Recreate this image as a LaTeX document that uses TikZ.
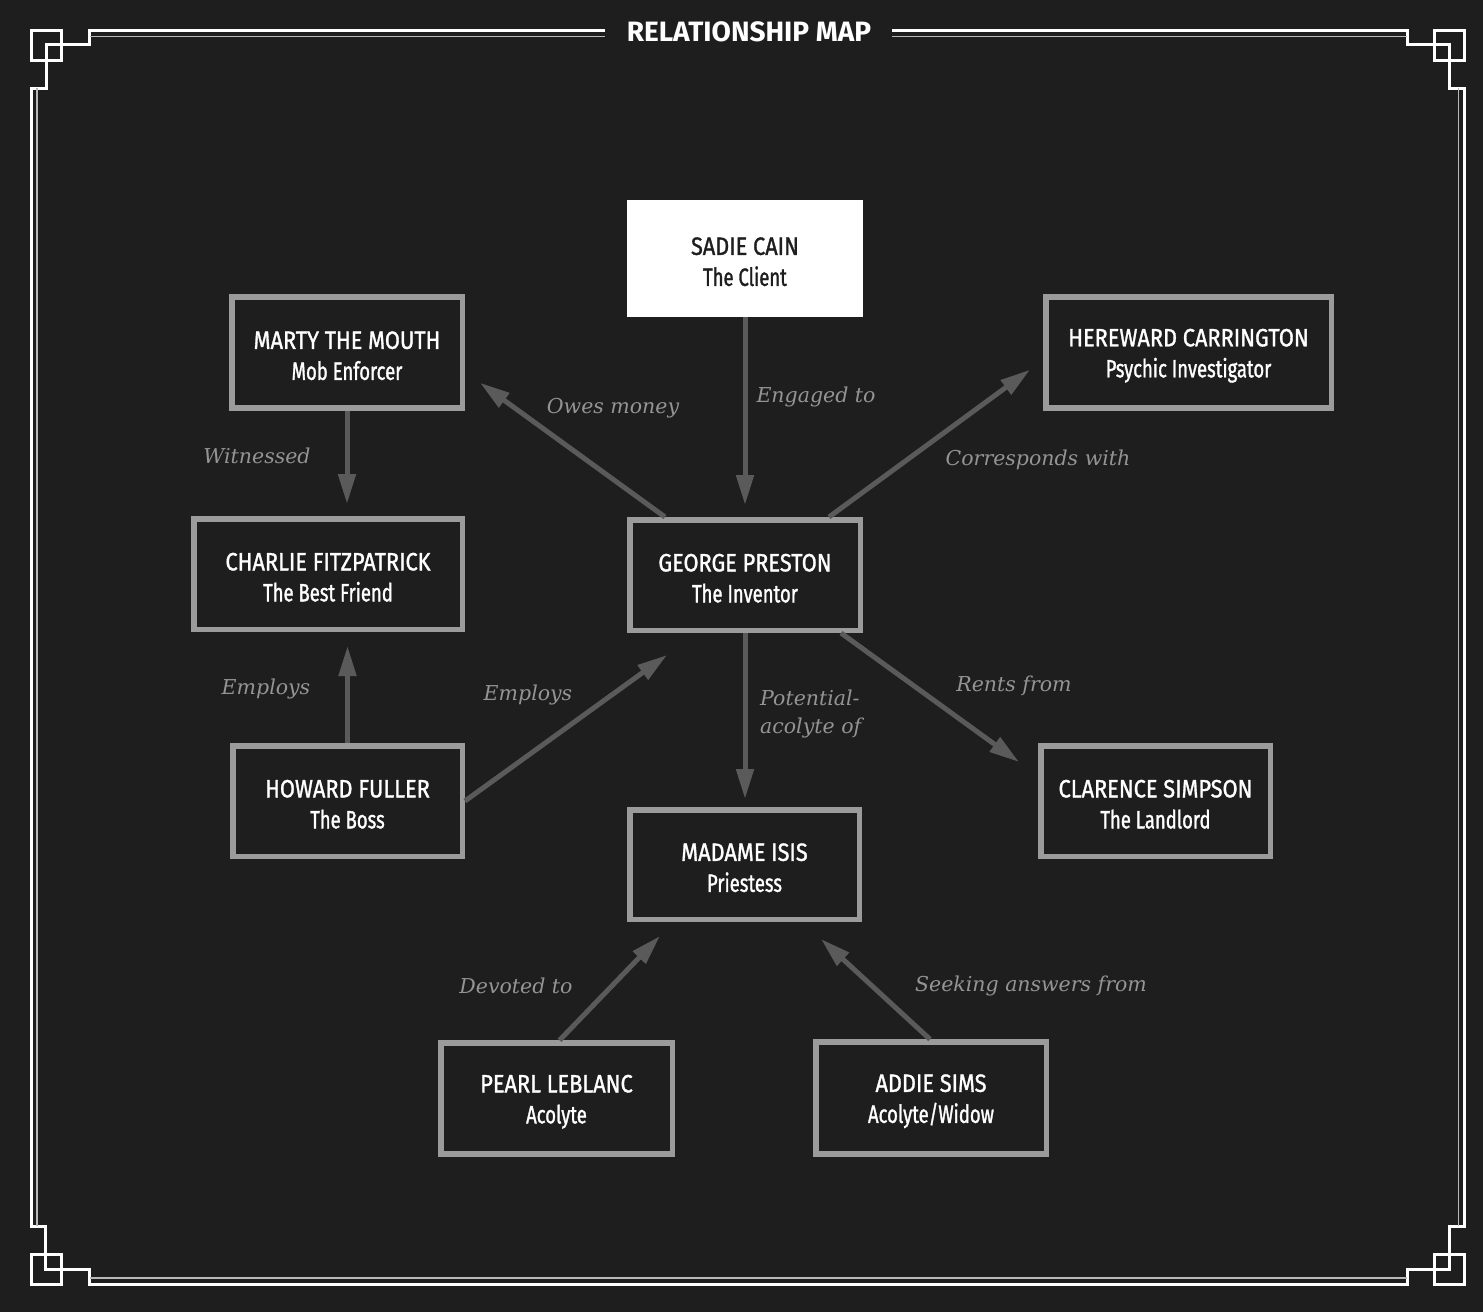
\documentclass[tikz,border=0pt]{standalone}
\usepackage{fontspec}
\usetikzlibrary{arrows.meta,calc}
\newfontfamily\namefont[FakeStretch=0.87,FakeBold=1.2]{Fira Sans}
\newfontfamily\rolefont[FakeStretch=0.74,FakeBold=1.2]{Fira Sans}
\newfontfamily\titlefont[FakeStretch=1.0]{Fira Sans}
\newfontfamily\lblfont{DejaVu Serif}
\definecolor{bgc}{RGB}{30,30,30}
\definecolor{framec}{RGB}{155,155,155}
\definecolor{arrowc}{RGB}{90,90,90}
\definecolor{labelc}{RGB}{148,148,148}
\definecolor{thinc}{RGB}{185,185,185}
\newcommand\pname[2]{\rule{0pt}{24pt}#1\\{\rolefont #2}}
\tikzset{
  person/.style={draw=framec, line width=5.5pt, fill=bgc, text=white, align=center,
    inner sep=0pt, minimum width=230.5pt, minimum height=111pt,
    font=\namefont\fontsize{25}{31}\selectfont},
  client/.style={fill=white, text=bgc, align=center, inner sep=0pt,
    minimum width=236pt, minimum height=117pt,
    font=\namefont\fontsize{25}{31}\selectfont},
  conn/.style={draw=arrowc, line width=5pt, -{Triangle[length=30pt,width=17pt]}},
  lbl/.style={text=labelc, inner sep=0pt, font=\lblfont\itshape\fontsize{20.5}{28}\selectfont},
  thick frame/.style={draw=white, line width=3pt},
  thin frame/.style={draw=thinc, line width=1.5pt},
}
\begin{document}
\begin{tikzpicture}[x=1pt,y=-1pt]
\fill[bgc] (0,0) rectangle (1483,1312);
\useasboundingbox (0,0) rectangle (1483,1312);

% frame
\draw[thick frame] (605,30) -- (89.5,30) -- (89.5,44.5) -- (46,44.5) -- (46,88.3) -- (31,88.3)
  -- (31,1226) -- (45.8,1226) -- (45.8,1269) -- (89.5,1269) -- (89.5,1284.5)
  -- (1407,1284.5) -- (1407,1269) -- (1449.5,1269) -- (1449.5,1226) -- (1464.5,1226)
  -- (1464.5,88.3) -- (1449.5,88.3) -- (1449.5,44.5) -- (1407,44.5) -- (1407,30) -- (892,30);
\draw[thin frame] (89.5,36.5) -- (605,36.5);
\draw[thin frame] (892,36.5) -- (1407,36.5);
\draw[thin frame] (89.5,1278) -- (1407,1278);
\draw[thin frame] (37.2,88.3) -- (37.2,1226);
\draw[thin frame] (1458.3,88.3) -- (1458.3,1226);
\draw[thick frame] (31,30.5) rectangle (61.5,60.5);
\draw[thick frame] (1434.2,30.5) rectangle (1464.5,60.5);
\draw[thick frame] (31,1254) rectangle (61.5,1284.5);
\draw[thick frame] (1434.2,1254) rectangle (1464.5,1284.5);

\node[text=white, inner sep=0pt, font=\titlefont\bfseries\fontsize{28}{30}\selectfont] (title) at (749,32) {RELATIONSHIP MAP};

% people
\node[client] (sadie) at (745,258.5) {\pname{SADIE CAIN}{The Client}};
\node[person] (marty) at (347,352.5) {\pname{MARTY THE MOUTH}{Mob Enforcer}};
\node[person, minimum width=285.5pt] (hereward) at (1188.5,352.5) {\pname{HEREWARD CARRINGTON}{Psychic Investigator}};
\node[person, minimum width=268.5pt, minimum height=110.5pt] (charlie) at (328,574) {\pname{CHARLIE FITZPATRICK}{The Best Friend}};
\node[person, minimum height=110.5pt] (george) at (745,575) {\pname{GEORGE PRESTON}{The Inventor}};
\node[person, minimum width=229.5pt, minimum height=110.5pt] (howard) at (347.5,801) {\pname{HOWARD FULLER}{The Boss}};
\node[person, minimum width=229.5pt, minimum height=110.5pt] (clarence) at (1155.5,801) {\pname{CLARENCE SIMPSON}{The Landlord}};
\node[person, minimum width=229.5pt, minimum height=109.5pt] (madame) at (744.5,864.5) {\pname{MADAME ISIS}{Priestess}};
\node[person, minimum width=231.5pt] (pearl) at (556.5,1098.5) {\pname{PEARL LEBLANC}{Acolyte}};
\node[person, minimum height=112pt] (addie) at (931,1098) {\pname{ADDIE SIMS}{Acolyte/Widow}};

% connectors
\draw[conn, shorten >=12pt] (sadie.south) -- (sadie.south |- george.north);
\draw[conn] ($(george.north west)+(38,0)$) -- ($(marty.south east)+(15,-28)$);
\draw[conn] ($(george.north east)+(-34,0)$) -- ($(hereward.south west)+(-13,-41)$);
\draw[conn, shorten >=12pt] (marty.south) -- (marty.south |- charlie.north);
\draw[conn, shorten >=14pt] (howard.north) -- (howard.north |- charlie.south);
\draw[conn] (howard.east) -- ($(george.south west)+(40,22)$);
\draw[conn, shorten >=8pt] (george.south) -- (george.south |- madame.north);
\draw[conn] ($(george.south east)+(-22,0)$) -- ($(clarence.north west)+(-19,19)$);
\draw[conn] ($(pearl.north)+(3,0)$) -- ($(madame.south west)+(33,14)$);
\draw[conn] ($(addie.north)+(-1,0)$) -- ($(madame.south east)+(-41,17)$);

% labels
\node[lbl] (l-owes) at (613,408) {Owes money};
\node[lbl] (l-engaged) at (816,397) {Engaged to};
\node[lbl] (l-corr) at (1038,460) {Corresponds with};
\node[lbl] (l-witn) at (257,456) {Witnessed};
\node[lbl] (l-emp1) at (266,689) {Employs};
\node[lbl] (l-emp2) at (528,695) {Employs};
\node[lbl, align=left, anchor=west] (l-pot) at (760,714) {Potential-\\acolyte of};
\node[lbl] (l-rents) at (1014,686) {Rents from};
\node[lbl] (l-dev) at (516,986) {Devoted to};
\node[lbl] (l-seek) at (1031,986) {Seeking answers from};
\end{tikzpicture}
\end{document}
